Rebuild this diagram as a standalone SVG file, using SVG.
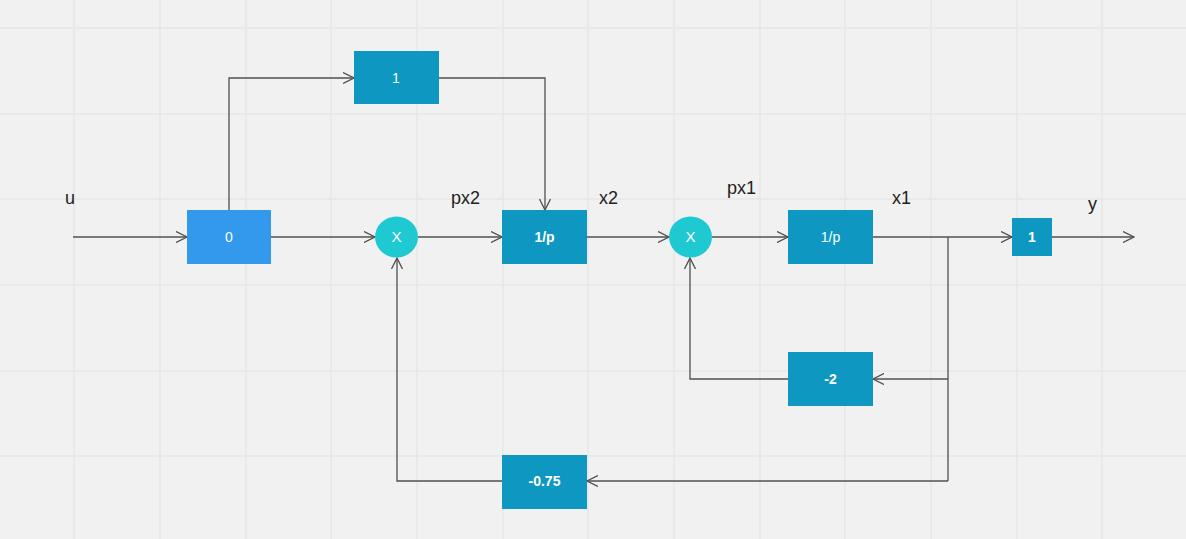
<svg xmlns="http://www.w3.org/2000/svg" width="1186" height="539" viewBox="0 0 1186 539">
<defs>
<style>
.grid line{stroke:#e6e6e6;stroke-width:1.5}
.box{fill:#0e98c1}
.box0{fill:#3399ed}
.sum{fill:#1fc9d1}
.bt{fill:#ffffff;font-family:"Liberation Sans",Arial,sans-serif;font-size:14px;text-anchor:middle}
.b{font-weight:bold}
.lbl{fill:#222;font-family:"Liberation Sans",Arial,sans-serif;font-size:18px}
.conn path{fill:none;stroke:#505050;stroke-width:1.3}
</style>
<marker id="arr" viewBox="0 0 12 12" refX="11" refY="6" markerWidth="12" markerHeight="12" markerUnits="userSpaceOnUse" orient="auto">
<path d="M0,0.5 L11,6 L0,11.5" fill="none" stroke="#505050" stroke-width="1.3"/>
</marker>
</defs>
<rect width="1186" height="539" fill="#f1f1f1"/>
<g class="grid">
<line x1="74" y1="0" x2="74" y2="539"/><line x1="160" y1="0" x2="160" y2="539"/><line x1="246" y1="0" x2="246" y2="539"/><line x1="331" y1="0" x2="331" y2="539"/><line x1="417" y1="0" x2="417" y2="539"/><line x1="503" y1="0" x2="503" y2="539"/><line x1="588" y1="0" x2="588" y2="539"/><line x1="674" y1="0" x2="674" y2="539"/><line x1="760" y1="0" x2="760" y2="539"/><line x1="845" y1="0" x2="845" y2="539"/><line x1="931" y1="0" x2="931" y2="539"/><line x1="1017" y1="0" x2="1017" y2="539"/><line x1="1102" y1="0" x2="1102" y2="539"/>
<line x1="0" y1="28" x2="1186" y2="28"/><line x1="0" y1="114" x2="1186" y2="114"/><line x1="0" y1="199" x2="1186" y2="199"/><line x1="0" y1="285" x2="1186" y2="285"/><line x1="0" y1="371" x2="1186" y2="371"/><line x1="0" y1="456" x2="1186" y2="456"/>
</g>
<g class="conn">
<path d="M73,237 H187" marker-end="url(#arr)"/>
<path d="M271,237 H375" marker-end="url(#arr)"/>
<path d="M229,210 V78 H354" marker-end="url(#arr)"/>
<path d="M439,78 H545 V210" marker-end="url(#arr)"/>
<path d="M418,237 H502" marker-end="url(#arr)"/>
<path d="M587,237 H669" marker-end="url(#arr)"/>
<path d="M712,237 H788" marker-end="url(#arr)"/>
<path d="M873,237 H1012" marker-end="url(#arr)"/>
<path d="M1052,237 H1134" marker-end="url(#arr)"/>
<path d="M948,237 V481"/>
<path d="M948,379 H873" marker-end="url(#arr)"/>
<path d="M948,481 H587" marker-end="url(#arr)"/>
<path d="M788,379 H690 V258" marker-end="url(#arr)"/>
<path d="M502,481 H397 V258" marker-end="url(#arr)"/>
</g>
<g id="n-gain0"><rect class="box0" x="187" y="210" width="84" height="54"/><text class="bt" x="229" y="242">0</text></g>
<g id="n-gain1top"><rect class="box" x="354" y="51" width="85" height="53"/><text class="bt" x="396" y="83">1</text></g>
<g id="n-sum1"><ellipse class="sum" cx="396.5" cy="237" rx="21.5" ry="20.5"/><text class="bt" x="396.5" y="242" style="font-size:15px">X</text></g>
<g id="n-int1"><rect class="box" x="502" y="210" width="85" height="54"/><text class="bt b" x="544.5" y="242">1/p</text></g>
<g id="n-sum2"><ellipse class="sum" cx="690.5" cy="237" rx="21.5" ry="20.5"/><text class="bt" x="690.5" y="242" style="font-size:15px">X</text></g>
<g id="n-int2"><rect class="box" x="788" y="210" width="85" height="54"/><text class="bt" x="830.5" y="242">1/p</text></g>
<g id="n-gainout"><rect class="box" x="1012" y="218" width="40" height="38"/><text class="bt b" x="1032" y="242">1</text></g>
<g id="n-gainm2"><rect class="box" x="788" y="352" width="85" height="54"/><text class="bt b" x="830.5" y="384">-2</text></g>
<g id="n-gainm075"><rect class="box" x="502" y="455" width="85" height="54"/><text class="bt b" x="544.5" y="486">-0.75</text></g>
<g id="labels">
<text class="lbl" x="65" y="204">u</text>
<text class="lbl" x="451" y="204">px2</text>
<text class="lbl" x="599" y="204">x2</text>
<text class="lbl" x="727" y="194">px1</text>
<text class="lbl" x="892" y="204">x1</text>
<text class="lbl" x="1088" y="210">y</text>
</g>
</svg>
